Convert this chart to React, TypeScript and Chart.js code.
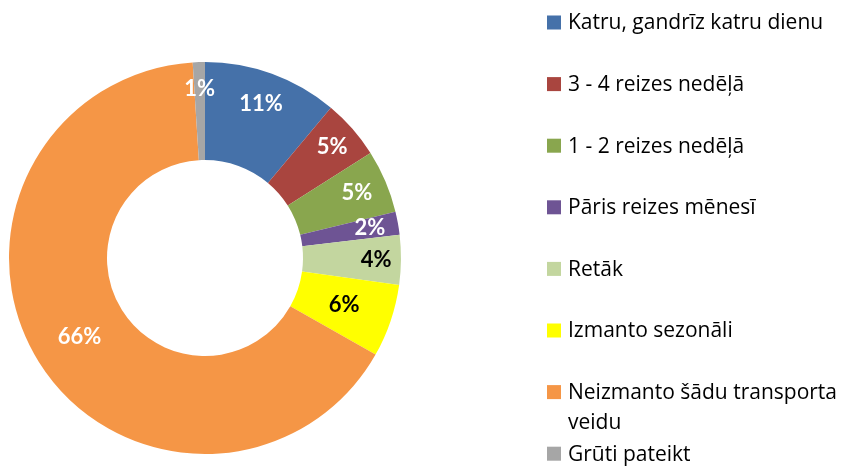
import React, { useEffect, useRef } from "react";
import { Chart, registerables } from "chart.js";

Chart.register(...registerables);

const categories: string[] = [
  "Katru, gandrīz katru dienu",
  "3 - 4 reizes nedēļā",
  "1 - 2 reizes nedēļā",
  "Pāris reizes mēnesī",
  "Retāk",
  "Izmanto sezonāli",
  "Neizmanto šādu transporta veidu",
  "Grūti pateikt",
];

const shares: number[] = [11.1, 4.9, 5.2, 1.9, 4.1, 6.0, 65.8, 1.0];

const valueLabels: string[] = ["11%", "5%", "5%", "2%", "4%", "6%", "66%", "1%"];

const sliceColors: string[] = [
  "#4571A9",
  "#A9453F",
  "#89A64E",
  "#6E5494",
  "#C3D69F",
  "#FFFF00",
  "#F59646",
  "#A6A6A6",
];

const labelColors: string[] = ["#fff", "#fff", "#fff", "#fff", "#000", "#000", "#fff", "#fff"];
const labelRadialFrac: number[] = [0.675, 0.726, 0.685, 0.71, 0.746, 0.5, 0.51, 0.726];

const LABEL_FONT = "Lato, 'Open Sans', sans-serif";
const LEGEND_FONT = "'Open Sans', 'Noto Sans', sans-serif";

const sliceLabelPlugin = {
  id: "sliceLabels",
  afterDatasetsDraw(chart: any) {
    const ctx = chart.ctx;
    const meta = chart.getDatasetMeta(0);
    ctx.save();
    ctx.font = `bold 22px ${LABEL_FONT}`;
    ctx.textAlign = "center";
    ctx.textBaseline = "middle";
    meta.data.forEach((arc: any, i: number) => {
      const p = arc.getProps(["x", "y", "startAngle", "endAngle", "innerRadius", "outerRadius"], true);
      const a = (p.startAngle + p.endAngle) / 2;
      const r = p.innerRadius + labelRadialFrac[i] * (p.outerRadius - p.innerRadius);
      ctx.fillStyle = labelColors[i];
      ctx.fillText(valueLabels[i], p.x + Math.cos(a) * r, p.y + Math.sin(a) * r);
    });
    ctx.restore();
  },
};

const sideLegendPlugin = {
  id: "sideLegend",
  afterDraw(chart: any) {
    const ctx = chart.ctx;
    const markerX = 547;
    const textX = 568;
    const startY = 22.5;
    const step = 61.6;
    const lineH = 30;
    const maxW = chart.width - textX - 2;
    ctx.save();
    ctx.font = `21px ${LEGEND_FONT}`;
    ctx.textBaseline = "middle";
    ctx.textAlign = "left";
    categories.forEach((label, i) => {
      const cy = startY + i * step;
      ctx.fillStyle = sliceColors[i];
      ctx.fillRect(markerX, cy - 7, 14, 14);
      ctx.fillStyle = "#000";
      const words = label.split(" ");
      const lines: string[] = [];
      let cur = "";
      words.forEach((w) => {
        const t = cur ? cur + " " + w : w;
        if (ctx.measureText(t).width > maxW && cur) {
          lines.push(cur);
          cur = w;
        } else cur = t;
      });
      if (cur) lines.push(cur);
      lines.forEach((ln, k) => ctx.fillText(ln, textX, cy + 1 + k * lineH));
    });
    ctx.restore();
  },
};

export default function App() {
  const ref = useRef<HTMLCanvasElement | null>(null);
  useEffect(() => {
    if (!ref.current) return;
    const chart = new Chart(ref.current, {
      type: "doughnut",
      data: {
        labels: categories,
        datasets: [
          {
            data: shares,
            backgroundColor: sliceColors,
            borderWidth: 0,
            hoverOffset: 0,
          },
        ],
      },
      options: {
        responsive: false,
        animation: false,
        cutout: "50%",
        layout: { padding: { left: 9, top: 62, right: 450, bottom: 12 } },
        plugins: {
          legend: { display: false },
          tooltip: { enabled: false },
        },
      },
      plugins: [sliceLabelPlugin, sideLegendPlugin],
    });
    return () => chart.destroy();
  }, []);
  return (
    <div style={{ position: "fixed", left: 0, top: 0, width: 851, height: 466, background: "#fff" }}>
      <canvas ref={ref} width={851} height={466} style={{ display: "block" }} />
    </div>
  );
}
